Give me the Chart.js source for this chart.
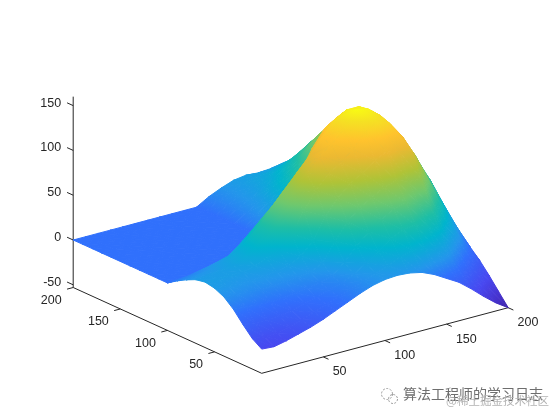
<!DOCTYPE html>
<html lang="en">
<head>
<meta charset="UTF-8">
<title>Surface</title>
<script src="https://cdn.jsdelivr.net/npm/chart.js"></script>
<style>
    body { margin: 0; background: #fff; }
    canvas { display: block; }
</style>
</head>
<body>
<canvas id="surface" width="560" height="420"></canvas>
<script>
    const xGrid = [0, 10, 20, 30, 40, 50, 60, 70, 80, 90, 100, 110, 120, 130, 140, 150, 160, 170, 180, 190, 200];
    const yGrid = [0, 10, 20, 30, 40, 50, 60, 70, 80, 90, 100, 110, 120, 130, 140, 150, 160, 170, 180, 190, 200];

    // one row per x value, running along y
    const zGrid = [
        [-26, -19, -8, 4, 13, 18, 20, 18, 13, 7, 0, 0, 0, 0, 0, 0, 0, 0, 0, 0, 0],
        [-27, -21, -10, 3, 12, 17, 20, 19, 15, 9, 0, 0, 0, 0, 0, 0, 0, 0, 0, 0, 0],
        [-24, -20, -10, 2, 11, 16, 20, 20, 17, 12, 0, 0, 0, 0, 0, 0, 0, 0, 0, 0, 0],
        [-20, -17, -9, 1, 10, 16, 20, 24, 22, 15, 0, 0, 0, 0, 0, 0, 0, 0, 0, 0, 0],
        [-16, -13, -7, 2, 11, 17, 23, 30, 29, 18, 0, 0, 0, 0, 0, 0, 0, 0, 0, 0, 0],
        [-11, -8, -3, 4, 12, 18, 28, 38, 40, 28, 0, 0, 0, 0, 0, 0, 0, 0, 0, 0, 0],
        [-5, -3, 1, 6, 13, 21, 33, 48, 52, 40, 0, 0, 0, 0, 0, 0, 0, 0, 0, 0, 0],
        [1, 2, 5, 8, 15, 28, 48, 66, 70, 50, 0, 0, 0, 0, 0, 0, 0, 0, 0, 0, 0],
        [7, 7, 9, 12, 22, 42, 70, 85, 85, 62, 0, 0, 0, 0, 0, 0, 0, 0, 0, 0, 0],
        [12, 12, 15, 24, 42, 65, 90, 103, 100, 70, 0, 0, 0, 0, 0, 0, 0, 0, 0, 0, 0],
        [15, 17, 24, 38, 60, 82, 105, 120, 115, 90, 0, 0, 0, 0, 0, 0, 0, 0, 0, 0, 0],
        [16, 22, 34, 50, 72, 95, 113, 128, 132, 115, 80, 55, 38, 22, 15, 12, 10, 9, 8, 8, 8],
        [15, 28, 44, 60, 80, 103, 125, 142, 147, 133, 109, 85, 62, 38, 28, 22, 18, 16, 15, 14, 14],
        [12, 32, 50, 68, 88, 113, 140, 160, 155, 142, 128, 108, 85, 55, 42, 35, 30, 24, 21, 20, 19],
        [6, 30, 52, 72, 92, 120, 148, 157, 155, 145, 132, 122, 105, 78, 60, 48, 40, 32, 27, 24, 21],
        [-2, 24, 46, 66, 87, 115, 142, 146, 147, 143, 138, 130, 116, 95, 72, 62, 52, 42, 33, 26, 20],
        [-10, 14, 36, 60, 86, 112, 124, 129, 132, 130, 128, 126, 120, 108, 96, 82, 66, 53, 38, 28, 21],
        [-21, -3, 18, 38, 60, 85, 100, 107, 115, 115, 115, 118, 112, 105, 98, 85, 75, 62, 45, 33, 22],
        [-33, -17, 0, 20, 38, 58, 72, 85, 92, 98, 100, 105, 100, 95, 90, 78, 68, 55, 45, 38, 27],
        [-44, -30, -14, 2, 15, 30, 45, 60, 70, 78, 82, 85, 85, 80, 75, 65, 55, 42, 30, 22, 10],
        [-53, -40, -27, -15, -5, 5, 17, 30, 42, 53, 60, 65, 65, 62, 58, 50, 42, 32, 22, 8, -10]
    ];

    const xTicks = [50, 100, 150, 200];
    const yTicks = [50, 100, 150, 200];
    const zTicks = [-50, 0, 50, 100, 150];

    const zMin = -53;
    const zMax = 160;

    // colour map
    const mapStops = [0, 0.05, 0.126, 0.25, 0.32, 0.42, 0.5, 0.6, 0.7, 0.8, 0.87, 0.95, 1];
    const mapColors = [
        [62, 38, 168], [70, 50, 205], [72, 72, 240], [48, 112, 252], [35, 150, 235],
        [0, 180, 205], [30, 190, 165], [110, 200, 110], [175, 195, 55], [235, 185, 50],
        [255, 195, 45], [245, 225, 35], [248, 250, 20]
    ];

    // view of the box: floor corner, then how far one unit moves on screen
    const view = { ox: 261.7, oy: 373.3, xx: 1.2325, xy: -0.328, yx: -0.9425, yy: -0.429, zy: -0.896 };

    function project(x, y, z) {
        return {
            x: view.ox + view.xx * x + view.yx * y,
            y: view.oy + view.xy * x + view.yy * y + view.zy * (z - zMin)
        };
    }

    function mapColor(z) {
        const t = Math.min(1, Math.max(0, (z - zMin) / (zMax - zMin)));
        let i = 0;
        while (i < mapStops.length - 2 && t > mapStops[i + 1]) i++;
        const f = (t - mapStops[i]) / (mapStops[i + 1] - mapStops[i]);
        const c = mapColors[i].map((v, k) => Math.round(v + (mapColors[i + 1][k] - v) * f));
        return `rgb(${c[0]},${c[1]},${c[2]})`;
    }

    // linear gradient that follows z across one triangle
    function triangleShade(ctx) {
        const ds = ctx.dataset;
        if (!ds.vals || !ctx.chart.chartArea) return '#000';
        if (ds.shade) return ds.shade;
        const sx = ctx.chart.scales.x, sy = ctx.chart.scales.y;
        const p = ds.data.slice(0, 3).map(d => [sx.getPixelForValue(d.x), sy.getPixelForValue(d.y)]);
        if (!p.every(q => isFinite(q[0]) && isFinite(q[1]))) return '#000';
        const v = ds.vals;
        const ax = p[1][0] - p[0][0], ay = p[1][1] - p[0][1];
        const bx = p[2][0] - p[0][0], by = p[2][1] - p[0][1];
        const det = ax * by - ay * bx;
        const lo = Math.min(...v), hi = Math.max(...v);
        if (Math.abs(det) < 1e-6 || hi - lo < 1e-6) {
            ds.shade = mapColor((lo + hi) / 2);
            return ds.shade;
        }
        const gx = ((v[1] - v[0]) * by - (v[2] - v[0]) * ay) / det;
        const gy = ((v[2] - v[0]) * ax - (v[1] - v[0]) * bx) / det;
        const start = p[v.indexOf(lo)];
        const n = (hi - lo) / (gx * gx + gy * gy);
        const grad = ctx.chart.ctx.createLinearGradient(start[0], start[1], start[0] + gx * n, start[1] + gy * n);
        grad.addColorStop(0, mapColor(lo));
        grad.addColorStop(1, mapColor(hi));
        mapStops.forEach(s => {
            const z = zMin + s * (zMax - zMin);
            if (z > lo && z < hi) grad.addColorStop((z - lo) / (hi - lo), mapColor(z));
        });
        ds.shade = grad;
        return grad;
    }

    function triangle(corners) {
        const pts = corners.map(c => project(xGrid[c[0]], yGrid[c[1]], zGrid[c[0]][c[1]]));
        return {
            data: [pts[0], pts[1], pts[2], pts[0]],
            vals: corners.map(c => zGrid[c[0]][c[1]]),
            showLine: true,
            fill: 'shape',
            backgroundColor: triangleShade,
            borderColor: triangleShade,
            borderWidth: 1,
            borderJoinStyle: 'round',
            pointRadius: 0,
            clip: false
        };
    }

    function axisLine(a, b) {
        return {
            data: [a, b],
            showLine: true,
            fill: false,
            borderColor: '#262626',
            borderWidth: 1,
            pointRadius: 0,
            clip: false
        };
    }

    // dataset 0 is painted last, so nearest cells go first
    const datasets = [];
    const order = [];
    for (let i = 0; i < xGrid.length - 1; i++) {
        for (let j = 0; j < yGrid.length - 1; j++) order.push([i, j]);
    }
    order.sort((a, b) => (a[0] + a[1]) - (b[0] + b[1]));
    order.forEach(([i, j]) => {
        datasets.push(triangle([[i, j], [i + 1, j], [i, j + 1]]));
        datasets.push(triangle([[i + 1, j + 1], [i + 1, j], [i, j + 1]]));
    });

    const xEnd = xGrid[xGrid.length - 1];
    const yEnd = yGrid[yGrid.length - 1];

    datasets.push(axisLine(project(0, 0, zMin), project(xEnd, 0, zMin)));
    datasets.push(axisLine(project(0, 0, zMin), project(0, yEnd, zMin)));
    datasets.push(axisLine(project(0, yEnd, zMin), project(0, yEnd, zMax)));
    xTicks.forEach(v => datasets.push(axisLine(project(v, 0, zMin), project(v, -5.5, zMin))));
    yTicks.forEach(v => datasets.push(axisLine(project(0, v, zMin), project(-5, v, zMin))));
    zTicks.forEach(v => datasets.push(axisLine(project(0, yEnd, v), project(0, yEnd + 6.5, v))));

    const tickText = {
        id: 'tickText',
        afterDraw(chart) {
            const c = chart.ctx;
            const sx = chart.scales.x, sy = chart.scales.y;
            c.save();
            c.font = '12.5px "Liberation Sans", Arial, sans-serif';
            c.fillStyle = '#262626';
            c.textBaseline = 'middle';

            c.textAlign = 'left';
            xTicks.forEach(v => {
                const p = project(v, 0, zMin);
                c.fillText(String(v), sx.getPixelForValue(p.x) + 9.3, sy.getPixelForValue(p.y) + 15);
            });
            c.textAlign = 'right';
            yTicks.forEach(v => {
                const p = project(0, v, zMin);
                c.fillText(String(v), sx.getPixelForValue(p.x) - 11.5, sy.getPixelForValue(p.y) + 13);
            });
            zTicks.forEach(v => {
                const p = project(0, yEnd, v);
                c.fillText(String(v), sx.getPixelForValue(p.x) - 12, sy.getPixelForValue(p.y) - 2.5);
            });

            // watermark
            c.textAlign = 'left';
            c.strokeStyle = '#9a9a9a';
            c.lineWidth = 1;
            c.setLineDash([2, 1.5]);
            c.beginPath();
            c.arc(387, 394, 5.5, 0, Math.PI * 2);
            c.stroke();
            c.beginPath();
            c.arc(393, 399, 4.5, 0, Math.PI * 2);
            c.stroke();
            c.setLineDash([]);
            c.font = '14px "Noto Sans CJK SC", sans-serif';
            c.fillStyle = '#6e6e6e';
            c.fillText('算法工程师的学习日志', 403, 394);
            c.font = '11.5px "Noto Sans CJK SC", sans-serif';
            c.fillStyle = '#b4b4b4';
            c.fillText('@稀土掘金技术社区', 446, 401);
            c.restore();
        }
    };

    new Chart(document.getElementById('surface'), {
        type: 'scatter',
        data: { datasets: datasets },
        plugins: [tickText],
        options: {
            responsive: false,
            animation: false,
            events: [],
            layout: { padding: 0 },
            plugins: { legend: { display: false }, tooltip: { enabled: false } },
            scales: {
                x: { type: 'linear', min: 0, max: 560, display: false },
                y: { type: 'linear', min: 0, max: 420, reverse: true, display: false }
            }
        }
    });
</script>
</body>
</html>
